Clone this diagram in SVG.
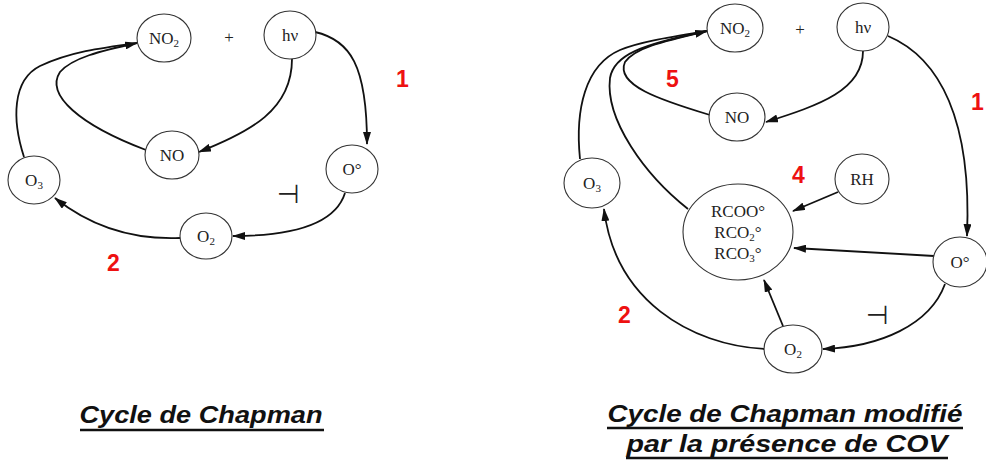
<svg xmlns="http://www.w3.org/2000/svg" width="986" height="461" viewBox="0 0 986 461">
<style>
.n{fill:#fff;stroke:#333;stroke-width:1.1}
.t{font-family:"Liberation Serif",serif;font-size:17px;fill:#222;text-anchor:middle}
.s{font-size:11px}
.c{fill:none;stroke:#111;stroke-width:1.8}
.a{marker-end:url(#ah)}
.r{font-family:"Liberation Sans",Arial,sans-serif;font-weight:bold;font-size:23px;fill:#ee1111}
.cap{font-family:"Liberation Sans",Arial,sans-serif;font-weight:bold;font-style:italic;font-size:23px;fill:#111;text-anchor:middle}
.u{stroke:#111;stroke-width:2.5}
.inh{font-family:"DejaVu Sans",sans-serif;font-size:26px;fill:#222;text-anchor:middle}
</style>
<defs>
<marker id="ah" markerUnits="userSpaceOnUse" viewBox="0 0 13 8" refX="12" refY="4" markerWidth="13" markerHeight="8" orient="auto">
<path d="M0,0 L13,4 L0,8 z" fill="#111"/>
</marker>
</defs>
<rect width="986" height="461" fill="#fff"/>

<g id="connectors">
<!-- left -->
<path class="c a" d="M315 32 C350 40 367 65 367 144"/>
<path class="c a" d="M292 59 C292 110 250 132 199 152"/>
<path class="c a" d="M146 150 C80 125 45 95 60 72 C72 58 100 51 137 43"/>
<path class="c" d="M24 157 C12 120 12 80 40 66 C70 52 100 48 137 43"/>
<path class="c a" d="M345 193 C335 225 290 236 233 236"/>
<path class="c a" d="M180 238 C130 240 90 226 55 198"/>
<!-- right -->
<path class="c a" d="M888 36 C940 58 972 120 967 236"/>
<path class="c a" d="M863 51 C863 90 820 105 766 122"/>
<path class="c a" d="M710 115 C660 100 615 85 625 62 C635 48 660 42 707 31"/>
<path class="c" d="M580 159 C575 110 585 65 620 50 C640 42 665 38 707 31"/>
<path class="c" d="M688 209 C645 175 605 120 610 78 C614 55 640 45 707 31"/>
<path class="c a" d="M838 192 L793 211"/>
<path class="c a" d="M934 256 L794 248"/>
<path class="c a" d="M783 326 L764 280"/>
<path class="c a" d="M945 284 C930 325 880 347 823 349"/>
<path class="c a" d="M765 349 C690 345 615 300 604 209"/>
</g>

<g id="L-NO2"><ellipse class="n" cx="164" cy="38" rx="27" ry="24"/><text class="t" x="164" y="44">NO<tspan class="s" dy="3">2</tspan></text></g>
<g id="L-plus"><text class="t" x="229" y="43">+</text></g>
<g id="L-hv"><ellipse class="n" cx="290" cy="35" rx="26" ry="24"/><text class="t" x="290" y="41">hν</text></g>
<g id="L-NO"><ellipse class="n" cx="172" cy="155" rx="27" ry="24"/><text class="t" x="172" y="161">NO</text></g>
<g id="L-O"><ellipse class="n" cx="352" cy="169" rx="26" ry="24"/><text class="t" x="352" y="175">O°</text></g>
<g id="L-O3"><ellipse class="n" cx="34" cy="180" rx="26" ry="24"/><text class="t" x="34" y="186">O<tspan class="s" dy="3">3</tspan></text></g>
<g id="L-O2"><ellipse class="n" cx="206" cy="236" rx="26" ry="23"/><text class="t" x="206" y="242">O<tspan class="s" dy="3">2</tspan></text></g>
<g id="L-inh"><text class="inh" x="288" y="203">⊣</text></g>
<g id="L-lab"><text class="r" x="396" y="87">1</text><text class="r" x="107" y="271">2</text></g>

<g id="R-NO2"><ellipse class="n" cx="735" cy="28" rx="28" ry="24"/><text class="t" x="735" y="34">NO<tspan class="s" dy="3">2</tspan></text></g>
<g id="R-plus"><text class="t" x="800" y="35">+</text></g>
<g id="R-hv"><ellipse class="n" cx="863" cy="27" rx="26" ry="24"/><text class="t" x="863" y="33">hν</text></g>
<g id="R-NO"><ellipse class="n" cx="737" cy="117" rx="28" ry="24"/><text class="t" x="737" y="123">NO</text></g>
<g id="R-RH"><ellipse class="n" cx="862" cy="179" rx="27" ry="25"/><text class="t" x="862" y="185">RH</text></g>
<g id="R-O3"><ellipse class="n" cx="592" cy="183" rx="28" ry="25"/><text class="t" x="592" y="189">O<tspan class="s" dy="3">3</tspan></text></g>
<g id="R-R"><ellipse class="n" cx="738" cy="232" rx="55" ry="48"/>
<text class="t" x="738" y="217">RCOO°</text>
<text class="t" x="738" y="238">RCO<tspan class="s" dy="3">2</tspan><tspan dy="-3">°</tspan></text>
<text class="t" x="738" y="259">RCO<tspan class="s" dy="3">3</tspan><tspan dy="-3">°</tspan></text></g>
<g id="R-O"><ellipse class="n" cx="960" cy="262" rx="27" ry="25"/><text class="t" x="960" y="268">O°</text></g>
<g id="R-O2"><ellipse class="n" cx="793" cy="349" rx="29" ry="24"/><text class="t" x="793" y="355">O<tspan class="s" dy="3">2</tspan></text></g>
<g id="R-inh"><text class="inh" x="877" y="324">⊣</text></g>
<g id="R-lab"><text class="r" x="666" y="87">5</text><text class="r" x="792" y="183">4</text><text class="r" x="618" y="323">2</text><text class="r" x="971" y="110">1</text></g>

<g id="captions">
<text class="cap" x="201" y="423" textLength="243" lengthAdjust="spacingAndGlyphs">Cycle de Chapman</text>
<line class="u" x1="80" y1="430" x2="324" y2="430"/>
<text class="cap" x="785" y="422" textLength="355" lengthAdjust="spacingAndGlyphs">Cycle de Chapman modifié</text>
<line class="u" x1="607" y1="428" x2="963" y2="428"/>
<text class="cap" x="787" y="452" textLength="321" lengthAdjust="spacingAndGlyphs">par la présence de COV</text>
<line class="u" x1="626" y1="458" x2="948" y2="458"/>
</g>
</svg>
